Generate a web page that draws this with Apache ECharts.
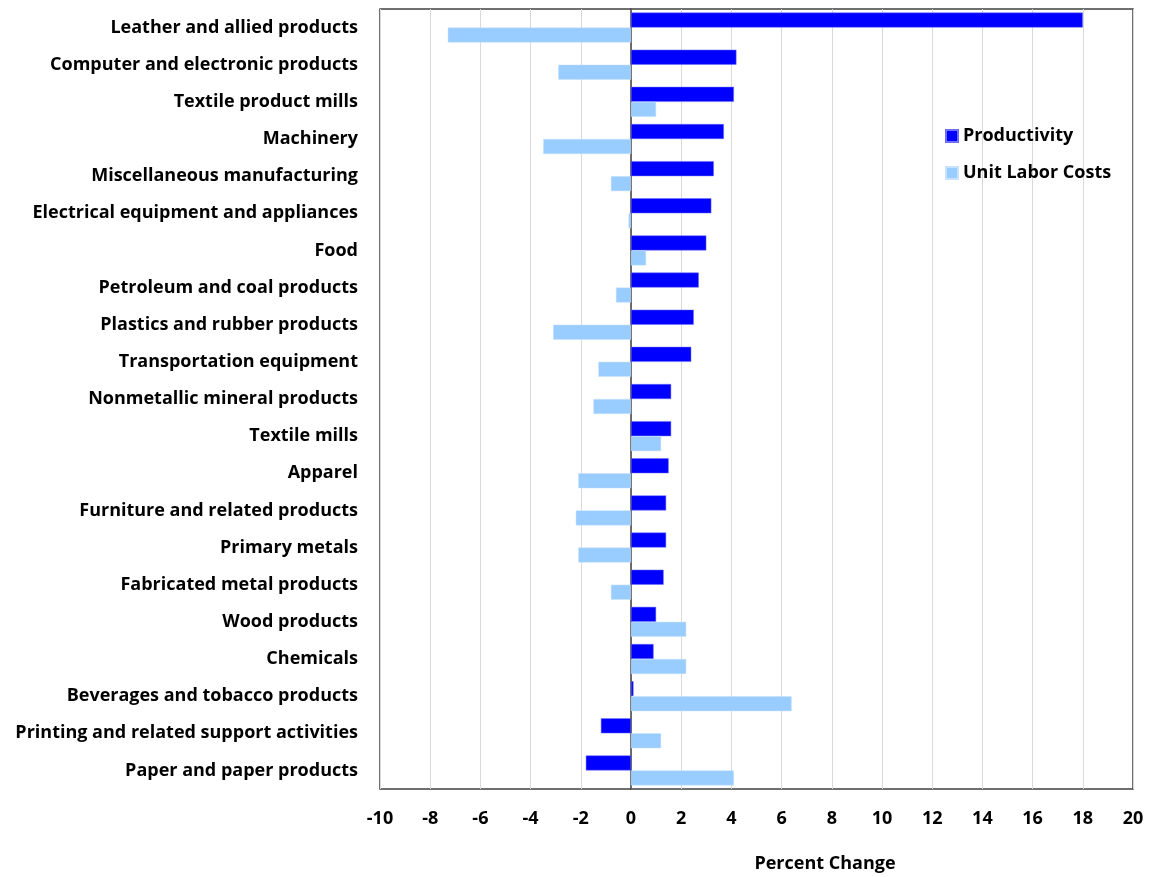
<!DOCTYPE html>
<html><head><meta charset="utf-8">
<script src="https://cdn.jsdelivr.net/npm/echarts@6/dist/echarts.min.js"></script>
<style>html,body{margin:0;padding:0;background:#fff}#c{width:1151px;height:877px}</style>
</head><body><div id="c"></div>
<script>
const categories = ["Leather and allied products","Computer and electronic products","Textile product mills","Machinery","Miscellaneous manufacturing","Electrical equipment and appliances","Food","Petroleum and coal products","Plastics and rubber products","Transportation equipment","Nonmetallic mineral products","Textile mills","Apparel","Furniture and related products","Primary metals","Fabricated metal products","Wood products","Chemicals","Beverages and tobacco products","Printing and related support activities","Paper and paper products"];
const productivity = [18.0,4.2,4.1,3.7,3.3,3.2,3.0,2.7,2.5,2.4,1.6,1.6,1.5,1.4,1.4,1.3,1.0,0.9,0.1,-1.2,-1.8];
const unitLaborCosts = [-7.3,-2.9,1.0,-3.5,-0.8,-0.1,0.6,-0.6,-3.1,-1.3,-1.5,1.2,-2.1,-2.2,-2.1,-0.8,2.2,2.2,6.4,1.2,4.1];
const seriesNames = ["Productivity","Unit Labor Costs"];
const FONT = "Open Sans";
const chart = echarts.init(document.getElementById('c'), null, {renderer:'canvas'});
chart.setOption({
  animation:false,
  backgroundColor:'#fff',
  grid:{left:380,right:18,top:9,bottom:88,show:true,borderColor:'#404040',borderWidth:1.5},
  legend:{orient:'vertical',left:940,top:122,itemWidth:12,itemHeight:12,itemGap:19,icon:'rect',
    textStyle:{fontFamily:FONT,fontWeight:'bold',fontSize:18,color:'#000'},
    data:seriesNames},
  title:{text:'Percent Change',left:820,top:850,textAlign:'center',
    textStyle:{fontFamily:FONT,fontWeight:'bold',fontSize:18,color:'#000'}},
  xAxis:{type:'value',min:-10,max:20,interval:2,
    axisLine:{show:false},axisTick:{show:false},
    splitLine:{show:true,lineStyle:{color:'#d9d9d9',width:1}},
    axisLabel:{fontFamily:FONT,fontWeight:'bold',fontSize:18,color:'#000',margin:21}},
  yAxis:{type:'category',data:categories,inverse:true,
    axisLine:{show:true,lineStyle:{color:'#404040',width:1.5}},axisTick:{show:false},
    axisLabel:{fontFamily:FONT,fontWeight:'bold',fontSize:18,color:'#000',margin:22}},
  series:[
    {name:seriesNames[0],type:'bar',data:productivity,barWidth:15,barGap:'0%',
      itemStyle:{color:'#0000FF',borderColor:'#6f6fff',borderWidth:0.5}},
    {name:seriesNames[1],type:'bar',data:unitLaborCosts,barWidth:15,barGap:'0%',
      itemStyle:{color:'#99CCFF',borderColor:'#c8e2ff',borderWidth:0.5}}
  ]
});
</script></body></html>
